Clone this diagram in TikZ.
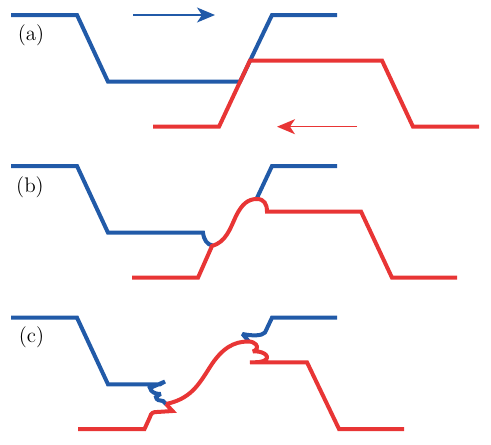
\documentclass[tikz,border=0pt]{standalone}
\usetikzlibrary{arrows.meta}
\definecolor{wblue}{RGB}{33,90,168}
\definecolor{wred}{RGB}{232,53,53}
\begin{document}
\begin{tikzpicture}[x=0.02cm,y=-0.02cm,
  wave/.style={line width=0.08cm,line join=miter},
  bluewave/.style={wave,draw=wblue},
  redwave/.style={wave,draw=wred},
  wiggle/.style={miter limit=2.5},
  motion/.style={line width=0.03cm,-{Stealth[length=0.36cm,width=0.3cm,inset=0.1cm]}},
  panel/.style={font=\fontsize{12}{14}\selectfont,inner sep=0pt}]
\useasboundingbox (0,0) rectangle (491,444);

% ---------- (a) ----------
\node[panel] (la) at (31,35.5) {(a)};
\draw[bluewave] (11,15) -- (77,15) -- (108,81.7) -- (240,81.7) -- (272,15) -- (337,15);
\draw[redwave] (153,126.7) -- (219,126.7) -- (250,60.5) -- (382,60.5) -- (413,126.7) -- (479,126.7);
\coordinate (ba0) at (133,15); \coordinate (ba1) at (215,15);
\coordinate (ra0) at (357,126.7); \coordinate (ra1) at (277,126.7);
\draw[motion,wblue] (ba0) -- (ba1);
\draw[motion,wred] (ra0) -- (ra1);

% ---------- (b) ----------
\node[panel] (lb) at (30,187) {(b)};
\draw[bluewave] (11,166) -- (77,166) -- (108,232.7) -- (203,232.7)
  .. controls (204,240) and (207,244.5) .. (212.5,245.5);
\draw[bluewave] (337,166) -- (272,166) -- (256.5,199);
\draw[redwave] (132,277.7) -- (198,277.7) -- (212,246)
  .. controls (226,242) and (230,229) .. (236,216)
  .. controls (242,204) and (248,199) .. (257,199)
  .. controls (264,199) and (267,204) .. (267,211.5)
  -- (361,211.5) -- (392,277.7) -- (457,277.7);

% ---------- (c) ----------
\node[panel] (lc) at (31.5,337) {(c)};
\draw[bluewave,wiggle] (11,317.7) -- (77,317.7) -- (108,384.3) -- (160,384.3) -- (165,381.5)
  -- (150,388) .. controls (151,392) and (155,394) .. (160.5,394)
  -- (156,397) .. controls (156,400) and (160,401) .. (163,401) -- (166,404);
\draw[bluewave,wiggle] (337,317.7) -- (272,317.7) -- (265,332.5)
  .. controls (262,336) and (252,336) .. (242.5,334) -- (248.5,341);
\draw[redwave,wiggle] (78,429) -- (144.5,429) -- (150,417)
  .. controls (151,413) and (153,412) .. (157,412) -- (172.5,411) -- (166,404);
\draw[redwave,wiggle] (166,404)
  .. controls (190,399) and (198,386) .. (210,367)
  .. controls (222,348) and (234,341.5) .. (248,341.5)
  .. controls (252,341.5) and (254,342.5) .. (256,344.5)
  .. controls (258,347) and (257,350) .. (253,351.5)
  .. controls (261,350.5) and (270,355) .. (266,359.5)
  .. controls (263,362.5) and (256,362.3) .. (250,362.3)
  -- (307,362.3) -- (339,429) -- (404,429);
\end{tikzpicture}
\end{document}
